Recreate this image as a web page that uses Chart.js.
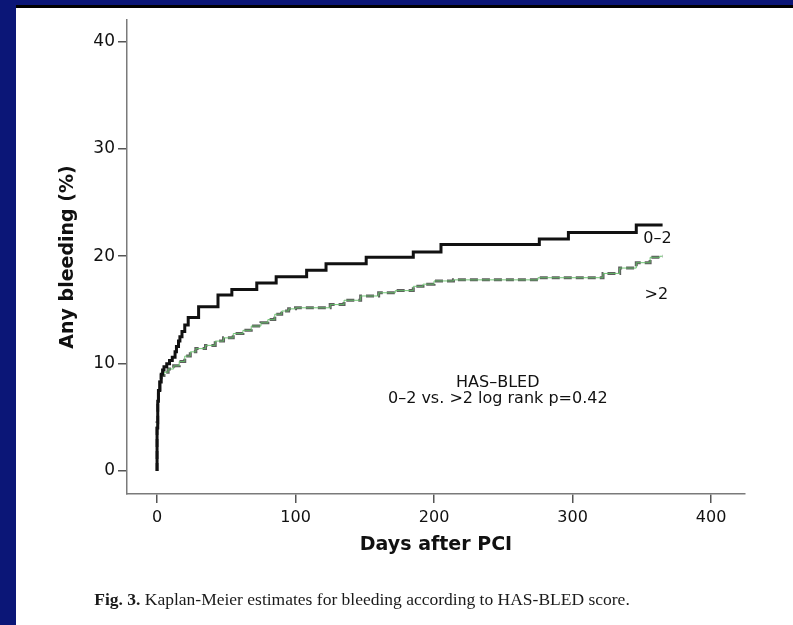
<!DOCTYPE html>
<html>
<head>
<meta charset="utf-8">
<script src="https://cdn.jsdelivr.net/npm/chart.js@4"></script>
<style>
  body { margin: 0; width: 793px; height: 625px; background: #fff; position: relative; overflow: hidden; }
  #km-chart { position: absolute; left: 0; top: 0; }
  .navy-left { position: absolute; left: 0; top: 0; width: 16px; height: 625px; background: #0b1677; }
  .navy-top { position: absolute; left: 0; top: 0; width: 793px; height: 5px; background: #0b1677; }
  .black-top { position: absolute; left: 16px; top: 5px; width: 777px; height: 3px; background: #000; }
  .caption { position: absolute; left: 0; top: 589px; width: 724px; text-align: center;
             font-family: "Liberation Serif", serif; font-size: 17.5px; color: #1a1a1a; }
</style>
</head>
<body>
<canvas id="km-chart" width="793" height="560"></canvas>
<div class="navy-left"></div>
<div class="navy-top"></div>
<div class="black-top"></div>
<div class="caption"><b>Fig. 3.</b> Kaplan-Meier estimates for bleeding according to HAS-BLED score.</div>
<script>
// HAS-BLED 0-2 group: [day, cumulative %]
const lowDays = [0, 0.5, 1, 2, 3, 4, 5, 7, 9, 11, 13, 14, 15.5, 16.5, 18, 20, 22.5, 30, 44, 54, 72, 86, 108, 122, 151, 185, 205, 276, 297, 346, 348, 365];
const lowPct  = [0, 4, 6.5, 7.5, 8.3, 9.0, 9.4, 9.7, 10.0, 10.3, 10.6, 11.1, 11.6, 12.1, 12.5, 13.0, 13.6, 14.3, 15.3, 16.4, 16.9, 17.5, 18.1, 18.7, 19.3, 19.9, 20.4, 21.1, 21.6, 22.2, 22.9, 22.9];

// HAS-BLED >2 group
const highDays = [0, 0.5, 1, 2, 3, 5, 8, 12, 16, 20, 24, 28, 35, 42, 48, 55, 62, 68, 75, 80, 85, 90, 95, 100, 125, 135, 147, 160, 172, 185, 192, 200, 214, 275, 322, 334, 346, 356, 363, 365];
const highPct  = [0, 4.5, 6.5, 7.6, 8.3, 8.9, 9.2, 9.5, 9.8, 10.2, 10.7, 11.1, 11.4, 11.7, 12.1, 12.4, 12.8, 13.1, 13.5, 13.8, 14.1, 14.6, 14.9, 15.1, 15.2, 15.5, 15.9, 16.3, 16.6, 16.8, 17.2, 17.4, 17.7, 17.8, 18.0, 18.4, 18.9, 19.4, 19.9, 20.0];

const xTicks = [0, 100, 200, 300, 400];
const yTicks = [0, 10, 20, 30, 40];

const toPoints = (xs, ys) => xs.map((x, i) => ({x: x, y: ys[i]}));

// text drawn on the plot, positioned in data units
const plotNotes = [
    {text: 'HAS–BLED', x: 246, y: 8.2, align: 'center'},
    {text: '0–2 vs. >2 log rank p=0.42', x: 246, y: 6.7, align: 'center'},
    {text: '0–2', x: 351, y: 21.6, align: 'left'},
    {text: '>2', x: 352, y: 16.4, align: 'left'}
];

const notesPlugin = {
    id: 'notes',
    afterDatasetsDraw(chart) {
        const ctx = chart.ctx;
        const xs = chart.scales.x, ys = chart.scales.y;
        ctx.save();
        ctx.fillStyle = '#111';
        ctx.font = '16px "DejaVu Sans"';
        ctx.textBaseline = 'middle';
        plotNotes.forEach(n => {
            ctx.textAlign = n.align;
            ctx.fillText(n.text, xs.getPixelForValue(n.x), ys.getPixelForValue(n.y));
        });
        ctx.restore();
    }
};

const axisColor = '#7a7a7a';

var config = {
    type: 'line',
    data: {
        datasets: [
            {
                label: '0–2',
                data: toPoints(lowDays, lowPct),
                stepped: 'after',
                borderColor: '#111',
                borderWidth: 3,
                pointRadius: 0,
                fill: false
            },
            {
                // thin green line showing through the gaps of the dashed one
                label: '>2 green',
                data: toPoints(highDays, highPct),
                stepped: 'after',
                borderColor: '#62bd66',
                borderWidth: 0.9,
                pointRadius: 0,
                fill: false
            },
            {
                label: '>2',
                data: toPoints(highDays, highPct),
                stepped: 'after',
                borderColor: '#5e5e5e',
                borderWidth: 3,
                borderDash: [8, 4],
                pointRadius: 0,
                fill: false
            }
        ]
    },
    options: {
        responsive: false,
        animation: false,
        layout: {padding: {left: 53, top: 20, right: 48, bottom: 0}},
        plugins: {
            legend: {display: false},
            tooltip: {enabled: false}
        },
        scales: {
            x: {
                type: 'linear',
                min: -21.7,
                max: 424.5,
                afterBuildTicks: s => { s.ticks = xTicks.map(v => ({value: v})); },
                afterFit: s => { s.height = 66; },
                border: {display: true, color: axisColor, width: 1.5},
                grid: {drawOnChartArea: false, drawTicks: true, tickLength: 9, color: '#555', lineWidth: 1.5},
                ticks: {color: '#111', padding: 5, maxRotation: 0, font: {family: 'DejaVu Sans', size: 16}},
                title: {display: true, text: 'Days after PCI', color: '#111',
                        font: {family: 'DejaVu Sans', size: 19, weight: 'bold'}}
            },
            y: {
                min: -2.14,
                max: 42,
                afterBuildTicks: s => { s.ticks = yTicks.map(v => ({value: v})); },
                afterFit: s => { s.width = 74; },
                border: {display: true, color: axisColor, width: 1.5},
                grid: {drawOnChartArea: false, drawTicks: true, tickLength: 9, color: '#555', lineWidth: 1.5},
                ticks: {color: '#111', padding: 3, font: {family: 'DejaVu Sans', size: 17}},
                title: {display: true, text: 'Any bleeding (%)', color: '#111',
                        font: {family: 'DejaVu Sans', size: 19, weight: 'bold'}}
            }
        }
    },
    plugins: [notesPlugin]
};

var ctx = document.getElementById('km-chart').getContext('2d');
window.kmChart = new Chart(ctx, config);
</script>
</body>
</html>
